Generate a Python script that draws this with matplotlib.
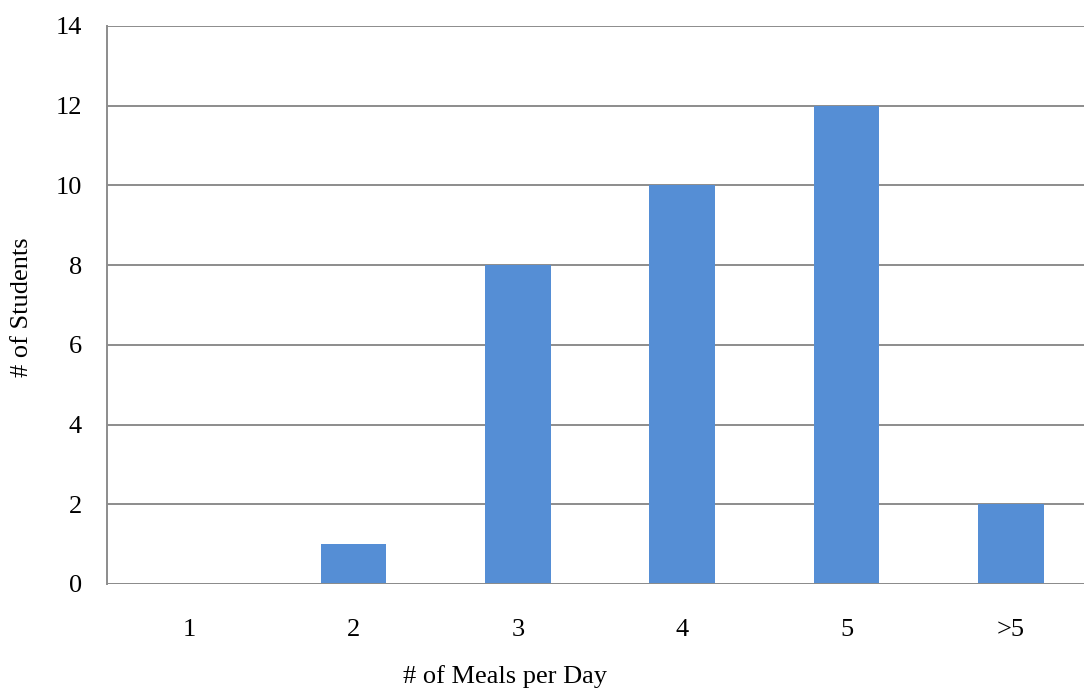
import matplotlib.pyplot as plt

# Data
categories = ["1", "2", "3", "4", "5", ">5"]
students = [0, 1, 8, 10, 12, 2]
y_ticks = [0, 2, 4, 6, 8, 10, 12, 14]

plt.rcParams["font.family"] = ["Liberation Serif", "DejaVu Serif"]

fig = plt.figure(figsize=(10.84, 6.91), dpi=100)
ax = fig.add_axes([107 / 1084, 107 / 691, 986 / 1084, 558 / 691])

x = range(len(categories))
ax.bar(x, students, width=0.4, color="#558ED5", zorder=3)

ax.set_xlim(-0.5, len(categories) - 0.5)
ax.set_ylim(0, 14)
ax.set_yticks(y_ticks)
ax.set_xticks(list(x))
ax.set_xticklabels(categories)

grid_col = "#8c8c8c"
ax.yaxis.grid(True, color=grid_col, linewidth=1.4, zorder=0)
for side in ["top", "right", "bottom"]:
    ax.spines[side].set_visible(False)
ax.spines["left"].set_color(grid_col)
ax.spines["left"].set_linewidth(1.4)
ax.axhline(0, color=grid_col, linewidth=1.4, zorder=4)

ax.tick_params(axis="both", length=0, labelsize=19)
ax.tick_params(axis="y", pad=18)
ax.tick_params(axis="x", pad=25)

fig.text(22 / 1084, 1 - 307 / 691, "# of Students", rotation=90,
         ha="center", va="center", fontsize=19)
fig.text(505 / 1084, 1 - 677 / 691, "# of Meals per Day",
         ha="center", va="center", fontsize=19)

fig.savefig("out.png", dpi=100)
